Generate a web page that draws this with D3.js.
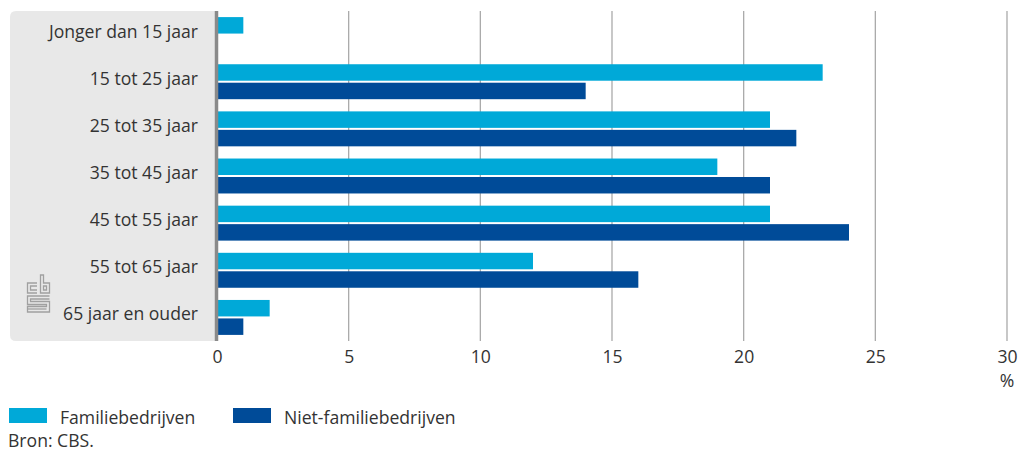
<!DOCTYPE html>
<html><head><meta charset="utf-8">
<script src="https://cdn.jsdelivr.net/npm/d3@7"></script>
<style>
html,body{margin:0;padding:0;background:#fff;}
svg{display:block;font-family:"Open Sans","Noto Sans",sans-serif;}
</style></head>
<body>
<svg id="chart" width="1027" height="452"></svg>
<script>
const categories = ["Jonger dan 15 jaar","15 tot 25 jaar","25 tot 35 jaar","35 tot 45 jaar","45 tot 55 jaar","55 tot 65 jaar","65 jaar en ouder"];
const seriesNames = ["Familiebedrijven","Niet-familiebedrijven"];
const familie = [1, 23, 21, 19, 21, 12, 2];
const nietFamilie = [0, 14, 22, 21, 24, 16, 1];
const xTicks = [0, 5, 10, 15, 20, 25, 30];
const colors = ["#00a9d8", "#004b98"];

const FS = 17.6;
const FF = "Open Sans, Noto Sans, sans-serif";
const TXT = "#333";

const svg = d3.select("#chart");
const x = d3.scaleLinear().domain([0, 30]).range([217, 1007]);
const y = d3.scaleBand().domain(categories).range([11, 341]).padding(0);
const ySub = d3.scaleBand().domain(seriesNames).range([0, y.bandwidth()]).paddingInner(0.108).paddingOuter(0.33);

// gray label panel
const px0 = 10, px1 = 216, py0 = 11, py1 = 341, r = 6;
svg.append("path")
  .attr("d", `M${px1},${py0} H${px0 + r} Q${px0},${py0} ${px0},${py0 + r} V${py1 - r} Q${px0},${py1} ${px0 + r},${py1} H${px1} Z`)
  .attr("fill", "#e8e8e8");

// gridlines
svg.append("g").selectAll("line").data(xTicks.filter(d => d > 0)).join("line")
  .attr("x1", d => x(d)).attr("x2", d => x(d))
  .attr("y1", 11).attr("y2", 341)
  .attr("stroke", "#aaaaaa").attr("stroke-width", 1.3);

// bars
const data = categories.map((c, i) => ({cat: c, vals: [familie[i], nietFamilie[i]]}));
const g = svg.append("g");
data.forEach(d => {
  d.vals.forEach((v, j) => {
    if (v <= 0) return;
    g.append("rect")
      .attr("x", x(0))
      .attr("y", y(d.cat) + ySub(seriesNames[j]))
      .attr("width", x(v) - x(0))
      .attr("height", ySub.bandwidth())
      .attr("fill", colors[j]);
  });
});

// axis line
svg.append("line").attr("x1", 216.5).attr("x2", 216.5).attr("y1", 11).attr("y2", 341)
  .attr("stroke", "#8a8a8a").attr("stroke-width", 3.5);

// category labels
svg.append("g").selectAll("text").data(categories).join("text")
  .attr("x", 198).attr("y", d => y(d) + y.bandwidth() / 2 + 3)
  .attr("text-anchor", "end")
  .attr("font-size", FS).attr("fill", TXT)
  .text(d => d);

// x axis tick labels
const xAxis = d3.axisBottom(x).tickValues(xTicks).tickSize(0).tickPadding(0).tickFormat(d3.format("d"));
const ax = svg.append("g").attr("transform", "translate(0,0)").call(xAxis);
ax.select(".domain").remove();
ax.selectAll("text").attr("font-size", FS).attr("fill", TXT).attr("font-family", FF)
  .attr("dy", null).attr("y", 363);

svg.append("text").attr("x", x(30)).attr("y", 386.5).attr("text-anchor", "middle")
  .attr("font-size", FS).attr("fill", TXT).text("%");

// legend
const legX = [9, 233];
seriesNames.forEach((s, i) => {
  svg.append("rect").attr("x", legX[i]).attr("y", 408).attr("width", 38).attr("height", 15).attr("fill", colors[i]);
  svg.append("text").attr("x", legX[i] + 51).attr("y", 424)
    .attr("font-size", FS).attr("fill", TXT).text(s);
});
svg.append("text").attr("x", 8).attr("y", 447)
  .attr("font-size", FS).attr("fill", TXT).text("Bron: CBS.");

// CBS logo (approximation)
const logo = svg.append("g").attr("fill", "none").attr("stroke", "#a0a0a0").attr("stroke-width", 1.3);
const logoPaths = [
  "M37,283 H27.5 V293 H37",
  "M37,286 H30.5 V290 H37",
  "M40.5,275 V293 H49.5 V283 H43.5 V275 Z",
  "M43.5,286 H46.5 V290 H43.5 Z",
  "M49.5,296 H27.5 V304.5 H46.5 V306.5 H27.5 V312 H49.5 V301.5 H30.5 V299 H49.5",
  "M27.5,309 H46.5"
];
logo.selectAll("path").data(logoPaths).join("path").attr("d", d => d);
</script>
</body></html>
